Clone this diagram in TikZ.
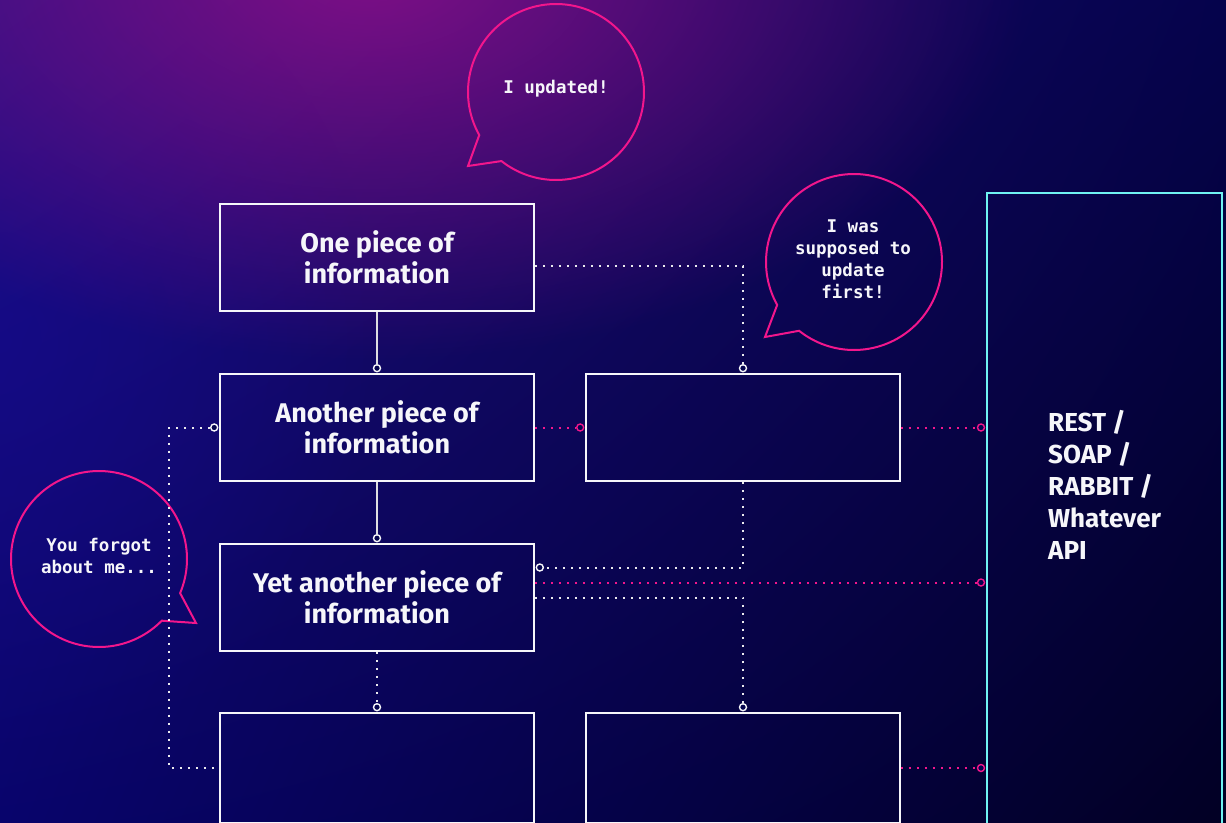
\documentclass[tikz,border=0pt]{standalone}
\usepackage{fontspec}
\setmainfont{Fira Sans}
\newfontfamily\codefont{DejaVu Sans Mono}
\usetikzlibrary{fadings,shadings,calc}
\definecolor{navy}{HTML}{05044F}
\definecolor{hotpink}{HTML}{F2168C}
\definecolor{aqua}{HTML}{70F2F2}
\definecolor{ink}{HTML}{F6F6FA}
\definecolor{bgUL}{HTML}{22107E}
\definecolor{bgUR}{HTML}{05034C}
\definecolor{bgLL}{HTML}{08046C}
\definecolor{bgLR}{HTML}{020024}
\definecolor{glowmag}{HTML}{A0108E}
\definecolor{glowblue}{HTML}{120A96}
\tikzfading[name=glowfade, inner color=transparent!0, outer color=transparent!100]

\begin{document}
\begin{tikzpicture}[x=1pt,y=-1pt,
  infobox/.style={draw=ink, line width=1.6pt, minimum width=314pt, minimum height=107pt,
    inner sep=0pt, align=center, text=ink, font=\fontsize{27}{31}\selectfont\bfseries},
  port/.style={circle, draw=ink, fill=navy, line width=1.4pt, minimum size=7pt, inner sep=0pt},
  pinkport/.style={port, draw=hotpink},
  solidlink/.style={draw=ink!80!gray, line width=1.4pt},
  dotlink/.style={draw=ink!90!gray, line width=2pt, dash pattern=on 2pt off 6pt},
  pinklink/.style={dotlink, draw=hotpink},
  bubble/.style={draw=hotpink, line width=2pt, line join=miter},
  say/.style={text=ink, align=center, font=\fontsize{17.5}{22}\selectfont\codefont\bfseries},
]
% background
\useasboundingbox (0,0) rectangle (1226,822);
\shade[upper left=bgUL, upper right=bgUR, lower left=bgLL, lower right=bgLR] (0,0) rectangle (1226,822);
\fill[glowblue, path fading=glowfade, fill opacity=0.45] (0,340) ellipse [x radius=380pt, y radius=420pt];
\fill[glowmag, path fading=glowfade, fill opacity=0.75] (370,-30) ellipse [x radius=660pt, y radius=390pt];

% speech bubbles
\draw[bubble] plot[domain=128.3:-209.3, samples=140] ({556+88*cos(\x)},{92+88*sin(\x)}) -- (468,166) -- cycle;
\draw[bubble] plot[domain=128.6:-209.2, samples=140] ({854+88*cos(\x)},{262+88*sin(\x)}) -- (765,337) -- cycle;
\draw[bubble] plot[domain=44.5:382.8, samples=140] ({99+88*cos(\x)},{559+88*sin(\x)}) -- (196,623) -- cycle;
\node[say] (t1) at (556,89) {I updated!};
\node[say] (t2) at (853,259) {I was\\supposed to\\update\\first!};
\node[say] (t3) at (99,556) {You forgot\\about me...};

% boxes
\node[infobox] (A) at (377,257.5) {One piece of\\information};
\node[infobox] (B) at (377,427.5) {Another piece of\\information};
\node[infobox] (C) at (377,597.5) {Yet another piece of\\information};
\node[infobox, minimum height=110pt] (D) at (377,768) {};
\node[infobox] (E) at (743,427.5) {};
\node[infobox, minimum height=110pt] (F) at (743,768) {};
\node[draw=aqua, line width=2pt, minimum width=235pt, minimum height=680pt, inner sep=0pt,
  anchor=north west] (API) at (986,192) {};
\node[anchor=west, align=left, inner sep=0pt, text=ink,
  font=\fontsize{26}{32}\selectfont\bfseries] (apitxt) at (1048,485)
  {REST /\\SOAP /\\RABBIT /\\Whatever\\API};

% ports
\node[port] (pB) at ([yshift=5pt]B.north) {};
\node[port] (pC) at ([yshift=5pt]C.north) {};
\node[port] (pD) at ([yshift=5pt]D.north) {};
\node[port] (pE) at ([yshift=5pt]E.north) {};
\node[port] (pF) at ([yshift=5pt]F.north) {};
\node[port] (pBw) at ([xshift=-5pt]B.west) {};
\node[port, xshift=5pt, yshift=30pt] (pCe) at (C.east) {};
\node[pinkport] (pEw) at ([xshift=-5pt]E.west) {};
\coordinate (cPink) at ([yshift=15pt]C.east);
\node[pinkport, xshift=-5pt] (q1) at (E.east -| API.west) {};
\node[pinkport, xshift=-5pt] (q2) at (cPink -| API.west) {};
\node[pinkport, xshift=-5pt] (q3) at (F.east -| API.west) {};

% connectors
\draw[solidlink] (A.south) -- (pB);
\draw[solidlink] (B.south) -- (pC);
\draw[dotlink] (C.south) -- (pD);
\draw[dotlink] ([yshift=-8.5pt]A.east) -| (pE);
\draw[dotlink] (pBw) -- ++(-45,0) |- (D.west);
\draw[dotlink] (E.south) |- (pCe);
\draw[dotlink] (C.east) -| (pF);
\draw[pinklink] (B.east) -- (pEw);
\draw[pinklink] (E.east) -- (q1);
\draw[pinklink] (cPink) -- (q2);
\draw[pinklink] (F.east) -- (q3);
\end{tikzpicture}
\end{document}
